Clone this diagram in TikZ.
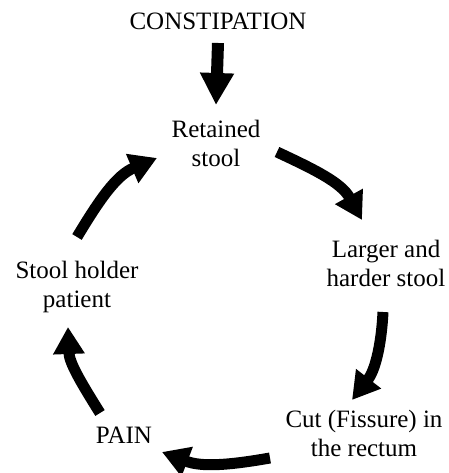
\documentclass[tikz,border=0pt]{standalone}
\usepackage{fontspec}
\setmainfont{Liberation Serif}
\usetikzlibrary{arrows.meta}
\begin{document}
\begin{tikzpicture}[x=1pt,y=1pt,
    lbl/.style={inner sep=0pt,align=center,font=\fontsize{25}{29}\selectfont},
    cyc/.style={line width=11pt,-{Triangle[width=30pt,length=27pt]}},
    down/.style={line width=12pt,-{Triangle[width=32pt,length=32pt]}}]
    \useasboundingbox (0,0) rectangle (448,473);
    \node[lbl] (constip) at (218,452) {CONSTIPATION};
    \node[lbl] (retained) at (216,330) {Retained\\stool};
    \node[lbl] (larger) at (386,210) {Larger and\\harder stool};
    \node[lbl] (cut) at (364,40) {Cut (Fissure) in\\the rectum};
    \node[lbl] (pain) at (124,38) {PAIN};
    \node[lbl] (holder) at (77,186) {Stool holder\\patient};
    \draw[down] ([yshift=-22pt]constip.center) -- ([yshift=38pt]retained.center);
    \draw[cyc] ([shift={(61,-9)}]retained.center) to[out=-25,in=119] ([shift={(-24,43)}]larger.center);
    \draw[cyc] ([shift={(-3,-49)}]larger.center) to[out=-93,in=52] ([shift={(-12,33)}]cut.center);
    \draw[cyc] ([shift={(-94,-25)}]cut.center) to[out=190,in=-21] ([shift={(38,-17)}]pain.center);
    \draw[cyc] ([shift={(-24,22)}]pain.center) to[out=122,in=-88] ([shift={(-9,-40)}]holder.center);
    \draw[cyc] ([shift={(0,50)}]holder.center) to[out=59,in=-157] ([shift={(-59,-15)}]retained.center);
\end{tikzpicture}
\end{document}
